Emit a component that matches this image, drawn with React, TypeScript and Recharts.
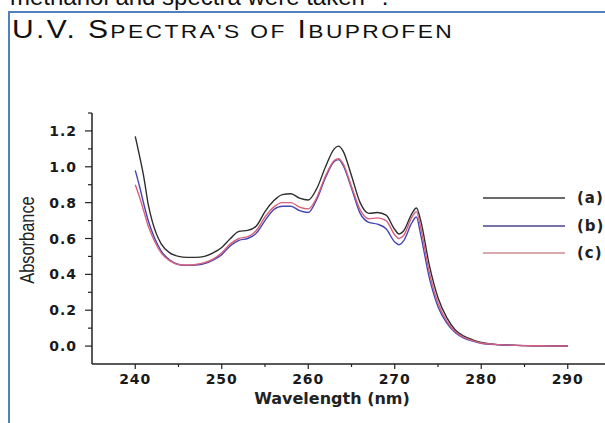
import { LineChart, Line, XAxis, YAxis } from 'recharts'

// wavelength (nm)
const wavelengths = [
  240, 240.5, 241, 241.5, 242, 243, 244, 245, 246, 247, 248, 249, 250, 251, 252, 253, 254, 255, 256, 257, 258,
  259, 260, 261, 262, 263, 263.5, 264, 265, 266, 267, 268, 269, 270, 270.5, 271, 272, 272.5, 273, 274, 275, 276,
  277, 278, 279, 280, 282, 284, 286, 288, 290,
]

// absorbance of the three samples
const absA = [
  1.17, 1.06, 0.94, 0.79, 0.69, 0.57, 0.52, 0.5, 0.495, 0.495, 0.5, 0.52, 0.55, 0.6, 0.64, 0.645, 0.67, 0.75, 0.81,
  0.845, 0.85, 0.825, 0.815, 0.88, 1.0, 1.1, 1.115, 1.09, 0.95, 0.8, 0.74, 0.745, 0.73, 0.65, 0.625, 0.64, 0.74,
  0.77, 0.7, 0.45, 0.27, 0.16, 0.09, 0.055, 0.035, 0.02, 0.008, 0.004, 0.002, 0.001, 0.0,
]
const absB = [
  0.98, 0.89, 0.79, 0.7, 0.63, 0.53, 0.48, 0.455, 0.45, 0.452, 0.46, 0.48, 0.51, 0.56, 0.59, 0.6, 0.63, 0.7, 0.76,
  0.78, 0.78, 0.755, 0.745, 0.82, 0.94, 1.03, 1.04, 1.01, 0.88, 0.74, 0.69, 0.68, 0.655, 0.58, 0.565, 0.585, 0.69,
  0.72, 0.62, 0.38, 0.22, 0.13, 0.075, 0.045, 0.028, 0.015, 0.007, 0.004, 0.002, 0.001, 0.0,
]
const absC = [
  0.9, 0.83, 0.75, 0.67, 0.61, 0.52, 0.475, 0.455, 0.452, 0.455, 0.465, 0.485, 0.52, 0.57, 0.6, 0.61, 0.645, 0.72,
  0.775, 0.8, 0.8, 0.775, 0.765, 0.83, 0.95, 1.035, 1.045, 1.02, 0.89, 0.76, 0.71, 0.715, 0.7, 0.62, 0.6, 0.615,
  0.72, 0.75, 0.66, 0.41, 0.24, 0.14, 0.08, 0.048, 0.03, 0.017, 0.008, 0.004, 0.002, 0.001, 0.0,
]

const xTicks = [240, 245, 250, 255, 260, 265, 270, 275, 280, 285, 290]
const xLabels = [240, 250, 260, 270, 280, 290]
const yTicks = [0, 0.1, 0.2, 0.3, 0.4, 0.5, 0.6, 0.7, 0.8, 0.9, 1.0, 1.1, 1.2, 1.3]
const yLabels = [0, 0.2, 0.4, 0.6, 0.8, 1.0, 1.2]

const series = [
  { key: 'a', label: '(a)', color: '#2e2e2e', legend: '#6a6a6a' },
  { key: 'b', label: '(b)', color: '#4646b2', legend: '#7474a8' },
  { key: 'c', label: '(c)', color: '#d8607e', legend: '#d9a9ae' },
]

const data = wavelengths.map((w, i) => ({ w, a: absA[i], b: absB[i], c: absC[i] }))

const tickFont = { fontFamily: 'DejaVu Sans', fontWeight: 700, fontSize: 14, fill: '#1a1a1a' }

function XTick(props: any) {
  const { x, y, payload } = props
  const major = xLabels.includes(payload.value)
  return (
    <g>
      <line x1={x} x2={x} y1={y} y2={y + (major ? 5 : 3)} stroke="#222" strokeWidth={1.2} />
      {major && (
        <text x={x} y={y + 20} textAnchor="middle" style={tickFont as any} letterSpacing={1}>
          {payload.value}
        </text>
      )}
    </g>
  )
}

function YTick(props: any) {
  const { x, y, payload } = props
  const major = yLabels.some((v) => Math.abs(v - payload.value) < 1e-6)
  return (
    <g>
      <line x1={x - (major ? 7 : 4)} x2={x} y1={y} y2={y} stroke="#222" strokeWidth={1.2} />
      {major && (
        <text x={x - 15} y={y + 5} textAnchor="end" style={tickFont as any} letterSpacing={1}>
          {payload.value.toFixed(1)}
        </text>
      )}
    </g>
  )
}

const small = { fontSize: 19, textTransform: 'uppercase' as const }

export default function App() {
  return (
    <div
      style={{
        position: 'fixed',
        left: 0,
        top: 0,
        width: 605,
        height: 423,
        overflow: 'hidden',
        background: '#fff',
        fontFamily: 'Liberation Sans, Arial, sans-serif',
      }}
    >
      <div style={{ position: 'absolute', left: 10, top: -15, fontSize: 24, lineHeight: '24px', whiteSpace: 'nowrap', color: '#111' }}>
        methanol and spectra were taken ⁴.
      </div>
      <div style={{ position: 'absolute', left: 8, top: 11, width: 700, height: 500, border: '2px solid #4f81bd' }} />
      <div
        style={{
          position: 'absolute',
          left: 12,
          top: 17,
          fontSize: 25,
          lineHeight: '25px',
          letterSpacing: 2,
          transform: 'scaleX(1.2)',
          transformOrigin: 'left center',
          whiteSpace: 'nowrap',
          color: '#111',
        }}
      >
        U.V. S<span style={small}>pectra's of</span> I<span style={small}>buprofen</span>
      </div>

      <div style={{ position: 'absolute', left: 0, top: 0 }}>
        <LineChart width={640} height={423} data={data} margin={{ top: 113, right: 29, bottom: 29, left: 32 }}>
          <XAxis
            dataKey="w"
            type="number"
            domain={[235, 295]}
            ticks={xTicks}
            interval={0}
            height={30}
            stroke="#222"
            strokeWidth={1.5}
            tickSize={0}
            tickMargin={0}
            tickLine={false}
            tick={<XTick />}
            allowDataOverflow
          />
          <YAxis
            type="number"
            domain={[-0.1, 1.3]}
            ticks={yTicks}
            interval={0}
            width={60}
            stroke="#222"
            strokeWidth={1.5}
            tickSize={0}
            tickMargin={0}
            tickLine={false}
            tick={<YTick />}
            allowDataOverflow
          />
          {series.map((s) => (
            <Line
              key={s.key}
              type="monotone"
              dataKey={s.key}
              stroke={s.color}
              strokeWidth={1.4}
              dot={false}
              isAnimationActive={false}
            />
          ))}
        </LineChart>
      </div>

      <div
        style={{
          position: 'absolute',
          left: 26.5,
          top: 239.5,
          transform: 'translate(-50%, -50%) rotate(-90deg) scaleX(0.78)',
          fontSize: 21,
          whiteSpace: 'nowrap',
          color: '#222',
        }}
      >
        Absorbance
      </div>
      <div
        style={{
          position: 'absolute',
          left: 332,
          top: 398,
          transform: 'translate(-50%, -50%)',
          fontFamily: 'DejaVu Sans',
          fontWeight: 700,
          fontSize: 16,
          whiteSpace: 'nowrap',
          color: '#222',
        }}
      >
        Wavelength (nm)
      </div>

      {series.map((s, i) => (
        <div
          key={s.key}
          style={{ position: 'absolute', left: 483, top: [198, 226, 253][i] - 10, height: 20, display: 'flex', alignItems: 'center' }}
        >
          <div style={{ width: 82, height: 0, borderTop: `2px solid ${s.legend}` }} />
          <div
            style={{
              marginLeft: 12,
              fontFamily: 'DejaVu Sans',
              fontWeight: 700,
              fontSize: 15,
              letterSpacing: 1,
              color: '#222',
              whiteSpace: 'nowrap',
            }}
          >
            {s.label}
          </div>
        </div>
      ))}
    </div>
  )
}
